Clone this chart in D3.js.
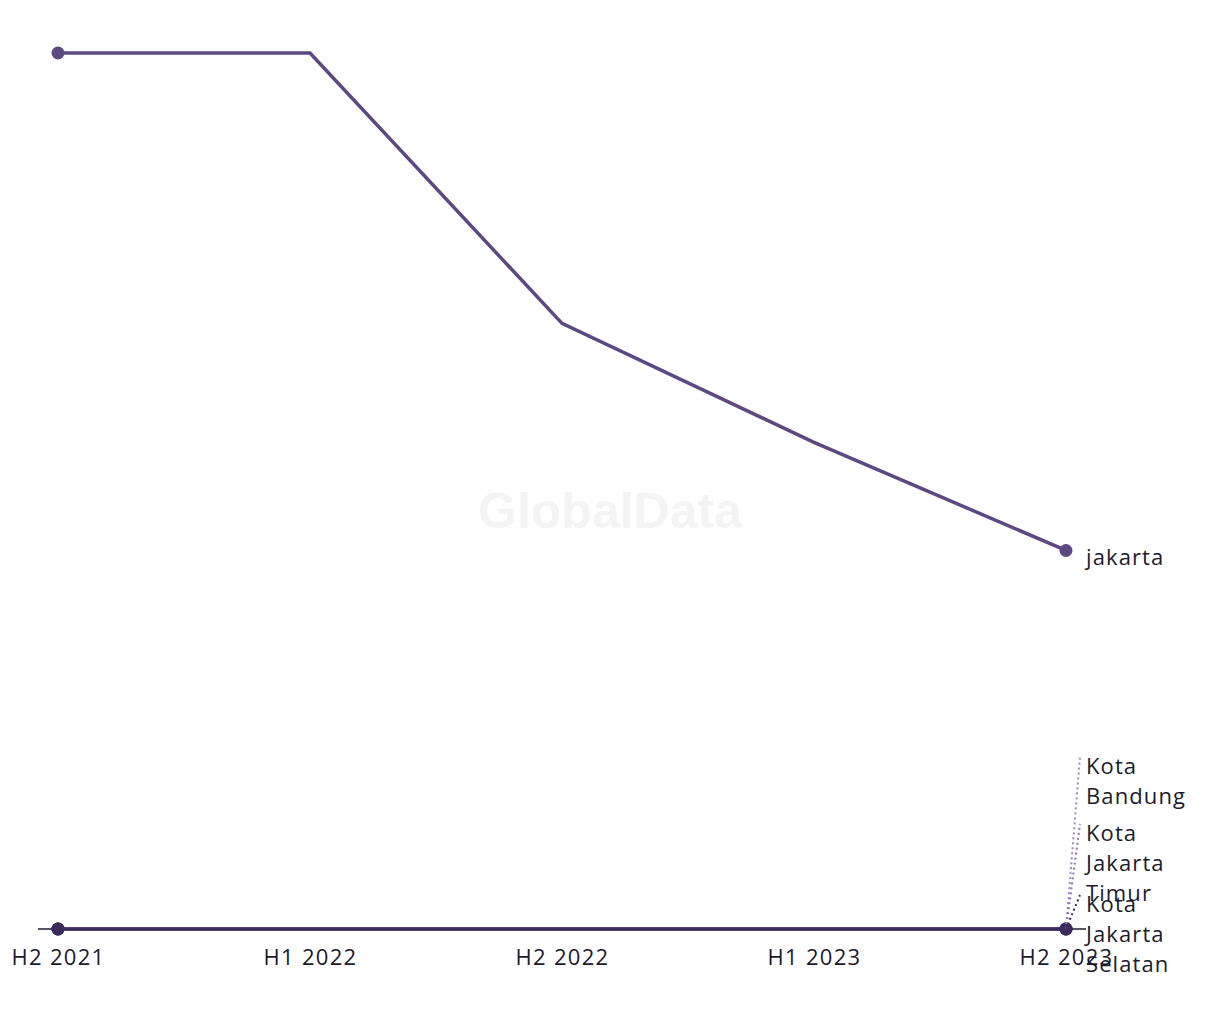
<!DOCTYPE html>
<html><head><meta charset="utf-8">
<script src="https://cdn.jsdelivr.net/npm/d3@7"></script>
<style>body{margin:0;background:#fff;}svg{display:block;}</style>
</head><body>
<svg id="chart" width="1220" height="1020"></svg>
<script>
const periods = ["H2 2021", "H1 2022", "H2 2022", "H1 2023", "H2 2023"];
const seriesNames = ["jakarta", "Kota Bandung", "Kota Jakarta Timur", "Kota Jakarta Selatan"];
const jakartaValues = [81, 81, 56, 45, 35];
const kotaBandungValues = [0, 0, 0, 0, 0];
const kotaJakartaTimurValues = [0, 0, 0, 0, 0];
const kotaJakartaSelatanValues = [0, 0, 0, 0, 0];
const seriesColors = ["#5b4a82", "#9d88c6", "#8c77b8", "#3b2a5c"];
const labelLines = [["jakarta"], ["Kota", "Bandung"], ["Kota", "Jakarta", "Timur"], ["Kota", "Jakarta", "Selatan"]];
const labelY = [557, 766, 833, 904];

const allValues = [jakartaValues, kotaBandungValues, kotaJakartaTimurValues, kotaJakartaSelatanValues];
const svg = d3.select("#chart");
const font = "'Open Sans', Inter, sans-serif";

const x = d3.scalePoint().domain(periods).range([58, 1066]);
const y = d3.scaleLinear().domain([0, 81]).range([929, 53]);

// watermark
svg.append("text").attr("x", 610).attr("y", 528).attr("text-anchor", "middle")
  .attr("font-family", "Arial, 'Liberation Sans', sans-serif").attr("font-weight", "bold")
  .attr("font-size", 50).attr("fill", "#f4f4f4").text("GlobalData");

// x axis
const xAxis = d3.axisBottom(x).tickSize(0).tickPadding(20);
const gx = svg.append("g").attr("transform", "translate(0,929)").call(xAxis);
gx.select(".domain").remove();
gx.selectAll("text").attr("font-family", font).attr("font-size", 22).attr("letter-spacing", 1.3).attr("fill", "#1c1b2e");
svg.append("line").attr("x1", x(periods[0]) - 20).attr("x2", x(periods[periods.length-1]) + 20)
  .attr("y1", y(0)).attr("y2", y(0)).attr("stroke", "#1c1b2e").attr("stroke-width", 1.5);

const line = d3.line().x((d, i) => x(periods[i])).y(d => y(d));

[0, 1, 2, 3].forEach(si => {
  const vals = allValues[si];
  svg.append("path").datum(vals).attr("d", line).attr("fill", "none")
    .attr("stroke", seriesColors[si]).attr("stroke-width", 3.5);
});

[0, 1, 2, 3].forEach(si => {
  const vals = allValues[si];
  const last = vals.length - 1;
  [0, last].forEach(i => {
    svg.append("circle").attr("cx", x(periods[i])).attr("cy", y(vals[i])).attr("r", 6.5)
      .attr("fill", si === 0 ? seriesColors[0] : "#3b2a5c");
  });
});

seriesNames.forEach((name, si) => {
  const vals = allValues[si];
  const px = x(periods[periods.length - 1]);
  const py = y(vals[vals.length - 1]);
  const ly = labelY[si];
  if (si > 0) {
    svg.append("line").attr("x1", px).attr("y1", py).attr("x2", px + 14).attr("y2", ly - 9)
      .attr("stroke", seriesColors[si]).attr("stroke-width", 2).attr("stroke-dasharray", "2,3");
  }
  const t = svg.append("text").attr("font-family", font).attr("font-size", 22).attr("letter-spacing", 1.1)
    .attr("fill", "#1c1b2e").attr("x", px + 20).attr("y", ly + 8);
  labelLines[si].forEach((ln, k) => {
    t.append("tspan").attr("x", px + 20).attr("dy", k === 0 ? 0 : 30).text(ln);
  });
});
</script>
</body></html>
